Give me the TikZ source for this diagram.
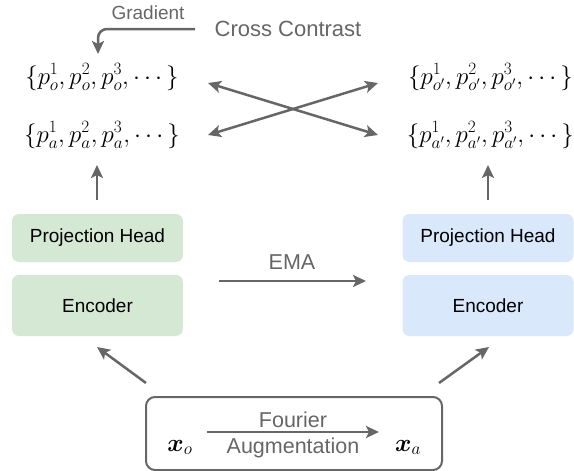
\documentclass[tikz,border=0pt]{standalone}
\usepackage{amsmath}
\usepackage{fontspec}
\setmainfont{Liberation Sans}
\usetikzlibrary{arrows.meta,calc}
\definecolor{arr}{HTML}{666666}
\definecolor{gfill}{HTML}{D5E8D4}
\definecolor{bfill}{HTML}{DAE8FC}
\begin{document}
\begin{tikzpicture}[x=1pt,y=-1pt,
  conn/.style={draw=arr,line width=2.5pt,-{Stealth[length=13pt,width=12pt,inset=3pt]}},
  dconn/.style={draw=arr,line width=2.5pt,{Stealth[length=13pt,width=12pt,inset=3pt]}-{Stealth[length=13pt,width=12pt,inset=3pt]}},
  gbox/.style={rectangle,rounded corners=7pt,fill=gfill,minimum width=171pt,inner sep=0pt,font=\fontsize{19}{22}\selectfont},
  bbox/.style={rectangle,rounded corners=7pt,fill=bfill,minimum width=171pt,inner sep=0pt,font=\fontsize{19}{22}\selectfont},
  lab/.style={text=arr,inner sep=0pt,font=\fontsize{21.5}{24}\selectfont},
  setnode/.style={inner sep=0pt,anchor=base,font=\fontsize{25}{29}\selectfont},
  xnode/.style={inner sep=0pt,anchor=base,font=\fontsize{27}{31}\selectfont}]
\useasboundingbox (0,0) rectangle (574,471);
% boxes
\node[gbox,minimum height=48pt] (gph) at (97.5,238) {Projection Head};
\node[gbox,minimum height=61pt] (gen) at (97.5,305.5) {Encoder};
\node[bbox,minimum height=48pt] (bph) at (488,238) {Projection Head};
\node[bbox,minimum height=61pt] (ben) at (488,305.5) {Encoder};
% sets
\node[setnode] (lo) at (102,84) {$\{p_o^1,p_o^2,p_o^3,\cdots\}$};
\node[setnode] (la) at (102,142) {$\{p_a^1,p_a^2,p_a^3,\cdots\}$};
\node[setnode] (ro) at (490.5,84) {$\{p_{o'}^1,p_{o'}^2,p_{o'}^3,\cdots\}$};
\node[setnode] (ra) at (490.5,142) {$\{p_{a'}^1,p_{a'}^2,p_{a'}^3,\cdots\}$};
% labels
\node[lab,font=\fontsize{19}{22}\selectfont] (grad) at (148,13) {Gradient};
\node[lab,font=\fontsize{22}{25}\selectfont] (cc) at (288,29) {Cross Contrast};
\node[lab] (ema) at (292,262) {EMA};
% bottom box
\node[draw=arr,line width=2pt,rounded corners=9pt,minimum width=296pt,minimum height=73pt] (inp) at (294,433.5) {};
\node[xnode] (xo) at (180,451) {$\boldsymbol{x}_o$};
\node[xnode] (xa) at (408,451) {$\boldsymbol{x}_a$};
\node[lab] (four) at (293,420) {Fourier};
\node[lab] (aug) at (293,448) {Augmentation};
% coordinates
\coordinate (c1) at (208,83);
\coordinate (c2) at (378,135);
\coordinate (c3) at (208,135);
\coordinate (c4) at (378,83);
\coordinate (g1) at (195,29);
\coordinate (g2) at (98,54);
\coordinate (e1) at (219,281);
\coordinate (e2) at (366,281);
\coordinate (f1) at (207,432);
\coordinate (f2) at (379,432);
\coordinate (ul) at (97,200);
\coordinate (ulT) at (97,165);
\coordinate (ur) at (488,200);
\coordinate (urT) at (488,165);
\coordinate (dl1) at (146,383);
\coordinate (dl2) at (97,347);
\coordinate (dr1) at (439,383);
\coordinate (dr2) at (489,347);
% connectors
\draw[dconn] (c1) -- (c2);
\draw[dconn] (c3) -- (c4);
\draw[conn,rounded corners=9pt] (g1) -| (g2);
\draw[conn] (e1) -- (e2);
\draw[conn] (f1) -- (f2);
\draw[conn] (ul) -- (ulT);
\draw[conn] (ur) -- (urT);
\draw[conn] (dl1) -- (dl2);
\draw[conn] (dr1) -- (dr2);
\end{tikzpicture}
\end{document}
